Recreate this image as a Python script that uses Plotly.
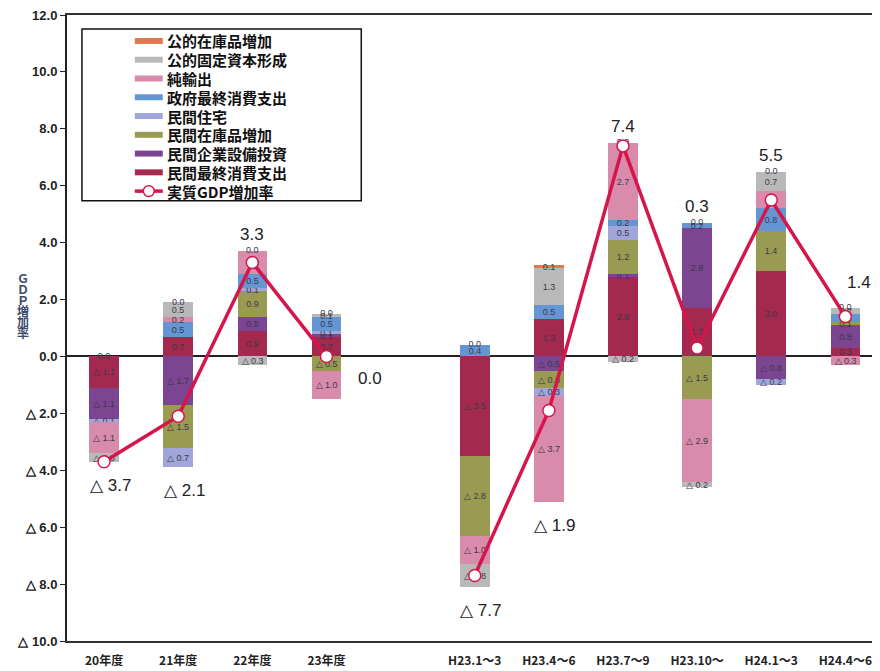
import plotly.graph_objects as go

categories = ["20年度", "21年度", "22年度", "23年度", "", "H23.1～3", "H23.4～6",
              "H23.7～9", "H23.10～", "H24.1～3", "H24.4～6"]

series_names = ["民間最終消費支出", "民間企業設備投資", "民間在庫品増加", "民間住宅",
                "政府最終消費支出", "純輸出", "公的固定資本形成", "公的在庫品増加"]
line_name = "実質GDP増加率"

consumption = [-1.1, 0.7, 0.9, 0.7, None, -3.5, 1.3, 2.8, 1.7, 3.0, 0.3]
capex = [-1.1, -1.7, 0.5, 0.1, None, 0.0, -0.5, 0.1, 2.8, -0.8, 0.8]
inventory = [0.0, -1.5, 0.9, -0.5, None, -2.8, -0.6, 1.2, -1.5, 1.4, 0.1]
housing = [-0.1, -0.7, 0.1, 0.1, None, 0.0, -0.3, 0.5, 0.0, -0.2, 0.0]
government = [0.0, 0.5, 0.5, 0.5, None, 0.4, 0.5, 0.2, 0.2, 0.8, 0.3]
net_exports = [-1.1, 0.2, 0.8, -1.0, None, -1.0, -3.7, 2.7, -2.9, 0.6, -0.3]
public_investment = [-0.3, 0.5, -0.3, 0.1, None, -0.8, 1.3, -0.2, -0.2, 0.7, 0.2]
public_inventory = [0.0, 0.0, 0.0, 0.0, None, 0.0, 0.1, 0.0, 0.0, 0.0, 0.0]

gdp_growth = [-3.7, -2.1, 3.3, 0.0, None, -7.7, -1.9, 7.4, 0.3, 5.5, 1.4]

y_ticks = [12, 10, 8, 6, 4, 2, 0, -2, -4, -6, -8, -10]

series_values = [consumption, capex, inventory, housing, government,
                 net_exports, public_investment, public_inventory]
colors = ["#a3294f", "#7b4592", "#9a9b52", "#a0a6da", "#6596d4",
          "#d98bab", "#b9b9b9", "#e07a4e"]

LINE_COLOR = "#d5154b"


def fmt(v):
    return ("△ %.1f" % abs(v)) if v < 0 else ("%.1f" % v)


# the page body adds an 8px offset; figure is sized so the plot area sits
# at window x 67..880, y 14..641
W, H = 872, 663
ML, MT, MB = 59, 6, 30
PLOT_W = W - ML
PLOT_H = H - MT - MB


def py(win_y):
    """window pixel y -> paper y"""
    return (641 - win_y) / PLOT_H


def px(win_x):
    return (win_x - 67) / PLOT_W


x = list(range(len(categories)))
fig = go.Figure()

for k, (name, vals, col) in enumerate(zip(series_names, series_values, colors)):
    texts = ["" if (v is None or v == 0) else fmt(v) for v in vals]
    fig.add_trace(go.Bar(
        x=x, y=vals, name=name, marker=dict(color=col, line=dict(width=0)),
        width=0.4, text=texts, textposition="inside", insidetextanchor="middle",
        textangle=0, constraintext="none",
        textfont=dict(size=9, color="#3a3a4a", family="Liberation Sans"),
        showlegend=False, hoverinfo="skip",
    ))

# positive / negative stack extents
pos_sum, neg_sum = [], []
for i in range(len(categories)):
    vs = [s[i] for s in series_values]
    if vs[0] is None:
        pos_sum.append(None); neg_sum.append(None); continue
    pos_sum.append(sum(v for v in vs if v > 0))
    neg_sum.append(sum(v for v in vs if v < 0))

# "0.0" labels for zero-valued segments (shown at top of the positive stack)
zx, zy = [], []
for i in range(len(categories)):
    if pos_sum[i] is None:
        continue
    if any(s[i] == 0 for s in series_values):
        zx.append(i); zy.append(pos_sum[i])
fig.add_trace(go.Scatter(
    x=zx, y=zy, mode="text", text=["0.0"] * len(zx), textposition="middle center",
    textfont=dict(size=9, color="#3a3a4a", family="Liberation Sans"),
    showlegend=False, hoverinfo="skip"))

fig.add_trace(go.Scatter(
    x=x, y=gdp_growth, name=line_name, mode="lines+markers",
    line=dict(color=LINE_COLOR, width=3.5),
    marker=dict(symbol="circle", size=12, color="white",
                line=dict(color=LINE_COLOR, width=1.5)),
    connectgaps=False, showlegend=False, hoverinfo="skip"))

# GDP value labels
last = len(categories) - 1
for i, g in enumerate(gdp_growth):
    if g is None:
        continue
    font = dict(size=17, color="#222", family="Liberation Sans")
    if g > 0:
        if i == last:
            fig.add_annotation(x=i, y=pos_sum[i], text=fmt(g), showarrow=False,
                               yanchor="bottom", yshift=14, xshift=14, font=font)
        else:
            fig.add_annotation(x=i, y=pos_sum[i], text=fmt(g), showarrow=False,
                               yanchor="bottom", yshift=5, font=font)
    elif g == 0:
        fig.add_annotation(x=i, y=g, text=fmt(g), showarrow=False,
                           xanchor="left", xshift=30, yshift=-22, font=font)
    else:
        fig.add_annotation(x=i, y=neg_sum[i], text=fmt(g), showarrow=False,
                           yanchor="top", yshift=-12, xshift=6, font=font)

# axis title (vertical stacked characters)
for k, ch in enumerate("ＧＤＰ増加率"):
    fig.add_annotation(xref="paper", yref="paper", x=px(23), y=py(277 + 11 * k),
                       text=ch, showarrow=False, xanchor="center", yanchor="middle",
                       font=dict(size=12, color="#3c4a6a", family="Noto Sans CJK JP",
                                 weight="bold"))

# ---- legend (drawn manually to mirror the boxed legend of the original) ----
fig.add_shape(type="rect", xref="paper", yref="paper",
              x0=px(82), x1=px(362), y0=py(200), y1=py(28),
              line=dict(color="#111", width=1.5), fillcolor="white", layer="below")

legend_items = list(zip(series_names, colors))[::-1]
row_y0, row_dy = 40, 18.8
sw_x0, sw_x1, text_x = 135, 163, 165
for k, (name, col) in enumerate(legend_items):
    yy = row_y0 + row_dy * k
    fig.add_shape(type="rect", xref="paper", yref="paper",
                  x0=px(sw_x0), x1=px(sw_x1), y0=py(yy + 3), y1=py(yy - 3),
                  line=dict(width=0), fillcolor=col)
    fig.add_annotation(xref="paper", yref="paper", x=px(text_x), y=py(yy),
                       text=name, showarrow=False, xanchor="left", yanchor="middle",
                       font=dict(size=15, color="#111", family="Noto Sans CJK JP",
                                 weight="bold"))
yy = row_y0 + row_dy * len(legend_items)
fig.add_shape(type="line", xref="paper", yref="paper",
              x0=px(sw_x0), x1=px(sw_x1), y0=py(yy), y1=py(yy),
              line=dict(color=LINE_COLOR, width=3.5))
cx, r = (sw_x0 + sw_x1) / 2, 5.5
fig.add_shape(type="circle", xref="paper", yref="paper",
              x0=px(cx - r), x1=px(cx + r), y0=py(yy + r), y1=py(yy - r),
              line=dict(color=LINE_COLOR, width=1.5), fillcolor="white")
fig.add_annotation(xref="paper", yref="paper", x=px(text_x), y=py(yy),
                   text=line_name, showarrow=False, xanchor="left", yanchor="middle",
                   font=dict(size=15, color="#111", family="Noto Sans CJK JP",
                             weight="bold"))

ytext = [("△ %.1f" % abs(v)) if v < 0 else ("%.1f" % v) for v in y_ticks]
tickx = [i for i, c in enumerate(categories) if c]
tickt = [c for c in categories if c]

fig.update_layout(
    width=W, height=H,
    margin=dict(l=ML, r=0, t=MT, b=MB),
    paper_bgcolor="white", plot_bgcolor="white",
    barmode="relative", bargap=0,
    showlegend=False,
    xaxis=dict(range=[-0.5, 10.44], tickvals=tickx, ticktext=tickt,
               showgrid=False, zeroline=False, showline=True, mirror=True,
               linecolor="#333", linewidth=2, ticks="",
               tickfont=dict(size=12, color="#222", family="Noto Sans CJK JP", weight="bold"),
               ticklabelstandoff=8),
    xaxis2=dict(range=[-0.5, 10.44], overlaying="x", anchor="free",
                position=10 / 22, side="bottom", ticks="inside", ticklen=6,
                tickcolor="#333", tickwidth=1,
                tickvals=[i + 0.5 for i in range(len(categories) - 1)],
                showticklabels=False, showline=False, showgrid=False, zeroline=False),
    yaxis=dict(range=[-10, 12], tickvals=y_ticks, ticktext=ytext,
               showgrid=False, zeroline=True, zerolinecolor="#222", zerolinewidth=2,
               showline=True, mirror=True, linecolor="#222", linewidth=2,
               ticks="outside", ticklen=5, tickcolor="#222", ticklabeloverflow="allow",
               tickfont=dict(size=13, color="#222", family="Liberation Sans", weight="bold")),
    uniformtext=dict(minsize=9, mode="show"),
)

fig.write_html("out.html")
